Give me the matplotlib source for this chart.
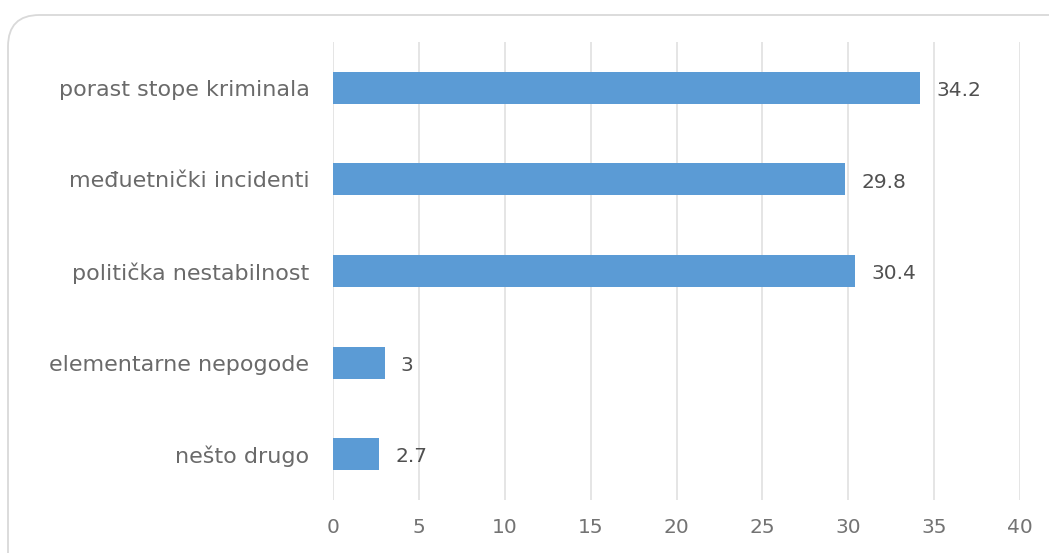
import matplotlib
matplotlib.use("Agg")
import matplotlib.pyplot as plt
from matplotlib.patches import FancyBboxPatch

categories = ["porast stope kriminala", "međuetnički incidenti", "politička nestabilnost",
              "elementarne nepogode", "nešto drugo"]
values = [34.2, 29.8, 30.4, 3, 2.7]
value_labels = ["34.2", "29.8", "30.4", "3", "2.7"]
xticks = [0, 5, 10, 15, 20, 25, 30, 35, 40]

plt.rcParams['font.family'] = ['DejaVu Sans']

fig = plt.figure(figsize=(10.49, 5.53), dpi=100)
border = FancyBboxPatch((8 / 1049, -0.1), 1.2, 1 - 15 / 553 + 0.1,
                        boxstyle="round,pad=0,rounding_size=0.03",
                        transform=fig.transFigure, facecolor="none",
                        edgecolor="#d9d9d9", linewidth=1.3, mutation_aspect=1049 / 553,
                        zorder=-1)
fig.patches.append(border)

ax = fig.add_axes([333 / 1049, 53 / 553, 687 / 1049, 458 / 553])
ax.set_facecolor("none")
ypos = list(range(len(categories)))[::-1]
ax.barh(ypos, values, height=0.35, color="#5b9bd5", zorder=3)
for y, v, lab in zip(ypos, values, value_labels):
    ax.text(v + 0.95, y - 0.03, lab, va="center", ha="left", fontsize=14.5, color="#505050")

ax.set_xlim(0, 40)
ax.set_ylim(-0.5, len(categories) - 0.5)
ax.set_xticks(xticks)
ax.set_yticks(ypos)
ax.set_yticklabels(categories)
ax.tick_params(axis="y", length=0, pad=17, labelsize=16, labelcolor="#6a6a6a")
ax.tick_params(axis="x", length=0, pad=13, labelsize=14.5, labelcolor="#737373")
ax.grid(axis="x", color="#e0e0e0", linewidth=1.2, zorder=0)
for s in ax.spines.values():
    s.set_visible(False)

fig.savefig("out.png", dpi=100)
